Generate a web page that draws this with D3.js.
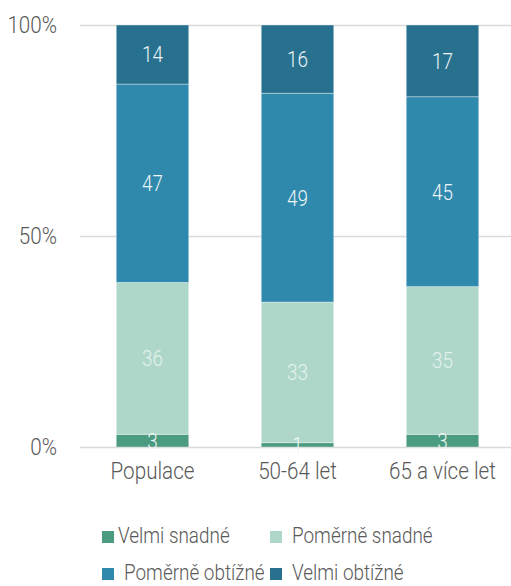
<!DOCTYPE html>
<html>
<head>
<meta charset="utf-8">
<script src="https://cdn.jsdelivr.net/npm/d3@7"></script>
<style>
  html, body { margin: 0; padding: 0; background: #fff; }
  svg { display: block; font-family: Roboto, sans-serif; font-weight: 300; }
</style>
</head>
<body>
<div id="chart"></div>
<script>
// data
const categories = ["Populace", "50-64 let", "65 a více let"];
const seriesNames = ["Velmi snadné", "Poměrně snadné", "Poměrně obtížné", "Velmi obtížné"];
const velmiSnadne = [3, 1, 3];
const pomerneSnadne = [36, 33, 35];
const pomerneObtizne = [47, 49, 45];
const velmiObtizne = [14, 16, 17];
const yTicks = [0, 0.5, 1];
const colors = ["#4a9b80", "#aed7ca", "#2f89ad", "#27718f"];

const width = 511, height = 586;
const margin = { top: 25, left: 80, bottom: 139, right: -4 };
const squeeze = 0.86; // fake a condensed face

const seriesValues = [velmiSnadne, pomerneSnadne, pomerneObtizne, velmiObtizne];
const rows = categories.map((c, i) => {
  const r = { cat: c };
  seriesNames.forEach((s, j) => r[s] = seriesValues[j][i]);
  return r;
});

const stack = d3.stack().keys(seriesNames).offset(d3.stackOffsetExpand);
const layers = stack(rows);

const svg = d3.select("#chart").append("svg")
  .attr("width", width).attr("height", height);

const x = d3.scaleBand()
  .domain(categories)
  .range([margin.left, width - margin.right])
  .paddingInner(0.5).paddingOuter(0.25);

const y = d3.scaleLinear()
  .domain([0, 1])
  .range([height - margin.bottom, margin.top]);

const z = d3.scaleOrdinal().domain(seriesNames).range(colors);

// gridlines
svg.append("g")
  .attr("transform", `translate(${margin.left},0)`)
  .call(d3.axisLeft(y).tickValues(yTicks).tickSize(-(width - margin.left)).tickFormat(""))
  .call(g => g.select(".domain").remove())
  .call(g => g.selectAll("line").attr("stroke", "#d9d9d9").attr("stroke-width", 1.6));

// bars
const g = svg.append("g");
g.selectAll(".layer")
  .data(layers)
  .enter().append("g")
  .attr("class", "layer")
  .attr("fill", d => z(d.key))
  .selectAll("rect")
  .data(d => d)
  .enter().append("rect")
  .attr("x", d => x(d.data.cat))
  .attr("width", x.bandwidth())
  .attr("y", d => y(d[1]))
  .attr("height", d => y(d[0]) - y(d[1]))
  .attr("stroke", "#fff")
  .attr("stroke-opacity", 0.45)
  .attr("stroke-width", 0.8);

// value labels
g.selectAll(".vlayer")
  .data(layers)
  .enter().append("g")
  .attr("class", "vlayer")
  .selectAll("text")
  .data(d => d.map(p => ({ key: d.key, p: p })))
  .enter().append("text")
  .attr("transform", d => `translate(${x(d.p.data.cat) + x.bandwidth() / 2},${y((d.p[0] + d.p[1]) / 2)}) scale(${squeeze},1)`)
  .attr("dy", "0.36em")
  .attr("text-anchor", "middle")
  .attr("font-size", "22px")
  .attr("fill", d => d.key === "Poměrně snadné" ? "#e4f2ed" : "#eef4f7")
  .text(d => d.p.data[d.key]);

// y axis
svg.append("g")
  .attr("transform", `translate(${margin.left},0)`)
  .call(d3.axisLeft(y).tickValues(yTicks).tickSize(0).tickFormat(d3.format(".0%")))
  .call(g => g.select(".domain").remove())
  .call(g => g.selectAll("text")
    .attr("x", -23 / squeeze)
    .attr("transform", `scale(${squeeze},1)`)
    .attr("font-family", "Roboto, sans-serif")
    .attr("font-size", "24px")
    .attr("fill", "#595959"));

// x axis
svg.append("g")
  .attr("transform", `translate(0,${height - margin.bottom})`)
  .call(d3.axisBottom(x).tickSize(0))
  .call(g => g.select(".domain").remove())
  .call(g => g.selectAll("text")
    .attr("y", 32)
    .attr("dy", 0)
    .attr("transform", `scale(${squeeze},1)`)
    .attr("font-family", "Roboto, sans-serif")
    .attr("font-size", "24px")
    .attr("fill", "#595959"));

// legend, two rows of two
const legendCols = [102, 270];
const legendRows = [543, 580];
const legend = svg.append("g")
  .selectAll(".legend")
  .data(seriesNames)
  .enter().append("g")
  .attr("class", "legend")
  .attr("transform", (d, i) => `translate(${legendCols[i % 2]},${legendRows[Math.floor(i / 2)]})`);

legend.append("rect")
  .attr("y", -12)
  .attr("width", 12)
  .attr("height", 12)
  .attr("fill", d => z(d));

legend.append("text")
  .attr("transform", (d, i) => `translate(${i === 0 ? 16 : 22},0) scale(${squeeze},1)`)
  .attr("font-size", "22px")
  .attr("fill", "#595959")
  .text(d => d);
</script>
</body>
</html>
